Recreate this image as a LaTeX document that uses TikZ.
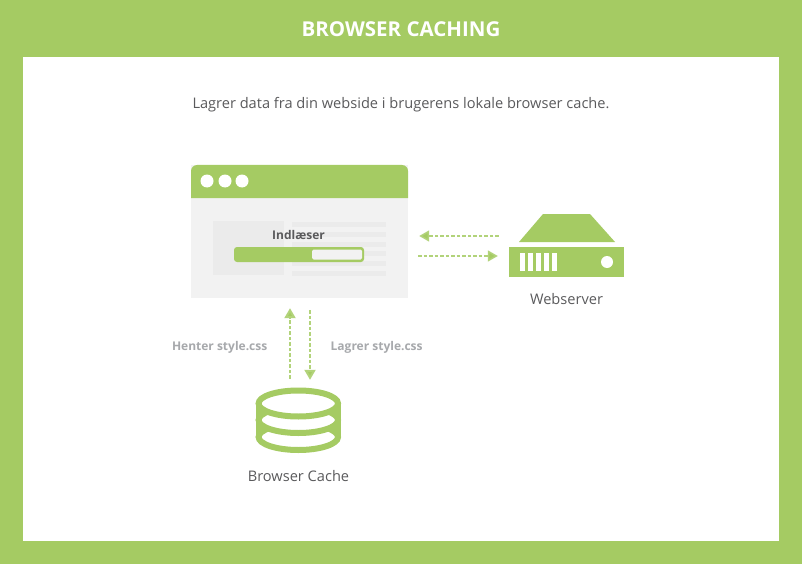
\documentclass[tikz,border=0pt]{standalone}
\usepackage{fontspec}
\setmainfont{Open Sans}
\usetikzlibrary{arrows.meta}
\definecolor{leaf}{HTML}{A5CB63}
\definecolor{pale}{HTML}{F2F2F2}
\definecolor{paleblock}{HTML}{EBEBEB}
\definecolor{ink}{HTML}{5A5A5C}
\definecolor{mute}{HTML}{A7A9AC}
\tikzset{
  flow/.style={draw=leaf!85,line width=1.5pt,dash pattern=on 3.5pt off 2pt,
    -{Triangle[length=10pt,width=11pt,fill=leaf]}},
  flowv/.style={flow,line width=2pt},
  caption/.style={font=\fontsize{14.6}{16}\selectfont,text=ink,inner sep=0pt},
  tag/.style={font=\fontsize{12}{15}\selectfont\bfseries,text=mute,inner sep=0pt},
  dot/.style={circle,fill=white,inner sep=0pt,minimum size=13pt},
}
\begin{document}
\begin{tikzpicture}[x=1pt,y=-1pt]
  \useasboundingbox (0,0) rectangle (802,564);
  \fill[leaf] (0,0) rectangle (802,564);
  \fill[white] (23,57) rectangle (779,541);
  \node[font=\fontsize{20.5}{24}\selectfont\bfseries,text=white,inner sep=0pt] (title) at (401,29.5) {BROWSER CACHING};
  \node[caption] (intro) at (401,104.5) {Lagrer data fra din webside i brugerens lokale browser cache.};
  % browser window
  \node[fill=pale,inner sep=0pt,minimum width=217pt,minimum height=133pt] (browser) at (299.5,231.5) {};
  \fill[leaf,rounded corners=6pt] (191,198) [sharp corners] -- (191,180) [rounded corners=6pt] -- (191,165) -- (408,165) -- (408,180) [sharp corners] -- (408,198) -- cycle;
  \node[dot] (dota) at (207,181) {};
  \node[dot] (dotb) at (225,181) {};
  \node[dot] (dotc) at (242,181) {};
  \fill[paleblock] (213,221) rectangle (284,275);
  \foreach \y in {222,232,242,251,261,271}
    \fill[paleblock] (292,\y) rectangle (386,\y+4.5);
  \node[tag,text=ink] (loading) at (298.5,234.5) {Indlæser};
  \fill[leaf,rounded corners=3pt] (234,247) rectangle (364,262);
  \fill[pale,rounded corners=1.5pt] (312,249.5) rectangle (362,259.5);
  % server
  \node[fill=leaf,inner sep=0pt,minimum width=115pt,minimum height=30pt] (serverbody) at (566.5,262) {};
  \fill[leaf] (543,214) -- (590,214) -- (615,242) -- (519,242) -- cycle;
  \foreach \x in {520,528,536,544,552}
    \fill[white] (\x,253) rectangle (\x+5,271);
  \node[circle,fill=white,inner sep=0pt,minimum size=12pt] (lamp) at (607,262) {};
  \node[caption] (servername) at (566.5,299.5) {Webserver};
  % cache
  \fill[leaf] (255.5,403.5) rectangle (341,437);
  \foreach \y in {437,420,403.5}
    \draw[leaf,line width=6pt,fill=white] (298.3,\y) ellipse [x radius=39.7pt,y radius=13pt];
  \node[inner sep=0pt,minimum width=85pt,minimum height=66pt] (cache) at (298.5,420) {};
  \node[caption] (cachename) at (298.5,476.5) {Browser Cache};
  % arrows
  \draw[flow,shorten <=10pt,shorten >=11pt] ([yshift=9.5pt]serverbody.west |- 0,245.5) -- ([yshift=-4.5pt]browser.east);
  \draw[flow,shorten <=10pt,shorten >=11pt] ([yshift=-24.5pt]browser.east) -- ([yshift=-10.5pt]serverbody.west |- 0,245.5);
  \draw[flowv,shorten <=8pt,shorten >=10pt] ([xshift=-8.5pt]cache.north) -- ([xshift=-9.5pt]browser.south);
  \draw[flowv,shorten <=12pt,shorten >=7pt] ([xshift=10.5pt]browser.south) -- ([xshift=11.5pt]cache.north);
  \node[tag,anchor=east] (fetch) at (267.5,347) {Henter style.css};
  \node[tag,anchor=west] (store) at (330.5,347) {Lagrer style.css};
\end{tikzpicture}
\end{document}
